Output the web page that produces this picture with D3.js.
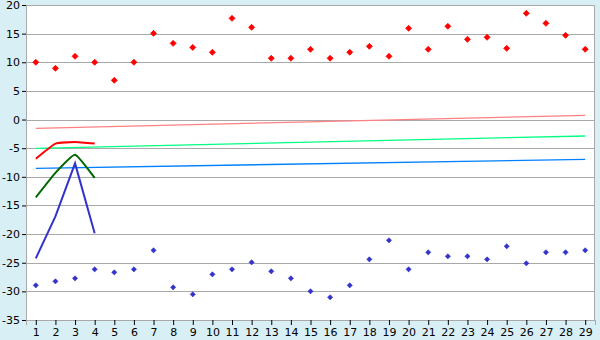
<!DOCTYPE html>
<html>
<head>
<meta charset="utf-8">
<script src="https://cdn.jsdelivr.net/npm/d3@7"></script>
<style>
  body { margin: 0; background: #d9eff6; }
  svg text { font-family: "DejaVu Sans", Verdana, sans-serif; font-size: 11px; fill: #000; }
</style>
</head>
<body>
<div id="chart"></div>
<script>
// categories along the x axis
let categories = d3.range(1, 30);

// scatter series (markers only)
let redPoints = [10, 8.95, 11.04, 10, 6.85, 10, 15.05, 13.3, 12.6, 11.74, 17.67, 16.1, 10.7, 10.7,
    12.26, 10.7, 11.74, 12.78, 11.04, 15.93, 12.26, 16.28, 14.0, 14.36, 12.43, 18.55, 16.8, 14.7, 12.26];
let bluePoints = [-28.95, -28.25, -27.73, -26.15, -26.68, -26.15, -22.83, -29.3, -30.52, -27.03, -26.15,
    -24.93, -26.5, -27.73, -29.99, -31.04, -28.95, -24.41, -21.09, -26.15, -23.18, -23.88, -23.88,
    -24.41, -22.13, -25.1, -23.18, -23.18, -22.83];

// short lines over categories 1..4
let redLine = [-6.84, -4.2, -3.92, -4.2];
let greenLine = [-13.58, -9.3, -6.15, -10.2];
let blueLine = [-24.24, -16.9, -7.65, -19.87];

// straight lines from first to last category
let pinkTrend = [-1.54, 0.73];
let springTrend = [-5.03, -2.87];
let azureTrend = [-8.52, -6.95];

let yTicks = [20, 15, 10, 5, 0, -5, -10, -15, -20, -25, -30, -35];

let svgWidth = 600, svgHeight = 340;
let margin = { top: 5, right: 5, bottom: 20, left: 26 };
let width = svgWidth - margin.left - margin.right;
let height = svgHeight - margin.top - margin.bottom;

let svg = d3.select("#chart").append("svg")
    .attr("width", svgWidth)
    .attr("height", svgHeight);

let chartGroup = svg.append("g")
    .attr("transform", `translate(${margin.left}, ${margin.top})`);

let xScale = d3.scalePoint()
    .domain(categories)
    .range([0, width])
    .padding(0.5);

let yScale = d3.scaleLinear()
    .domain([-35, 20])
    .range([height, 0]);

// plot background
chartGroup.append("rect")
    .attr("width", width)
    .attr("height", height)
    .attr("fill", "#fff");

// gridlines
chartGroup.append("g")
    .selectAll("line")
    .data(yTicks)
    .enter()
    .append("line")
    .attr("x1", 0)
    .attr("x2", width)
    .attr("y1", d => Math.round(yScale(d)) + 0.5)
    .attr("y2", d => Math.round(yScale(d)) + 0.5)
    .attr("stroke", "#a9a9a9")
    .attr("stroke-width", 1);

// right border
chartGroup.append("line")
    .attr("x1", width - 0.5).attr("x2", width - 0.5)
    .attr("y1", 0).attr("y2", height)
    .attr("stroke", "#a9a9a9");

// axes
let leftAxis = d3.axisLeft(yScale).tickValues(yTicks).tickSize(4).tickPadding(2);
let bottomAxis = d3.axisBottom(xScale).tickSize(5).tickPadding(3);

let yAxis = chartGroup.append("g").call(leftAxis);
yAxis.select(".domain").attr("stroke", "#a9a9a9");
yAxis.selectAll(".tick line").attr("stroke", "#000");
yAxis.selectAll("text").attr("font-size", 11).attr("font-family", null).text(d => d);

let xAxis = chartGroup.append("g")
    .attr("transform", `translate(0, ${height})`)
    .call(bottomAxis);
xAxis.select(".domain").attr("stroke", "#a9a9a9");
xAxis.selectAll(".tick line").attr("stroke", "#000");
xAxis.selectAll("text").attr("font-size", 11).attr("font-family", null);

// trend lines
let straight = d3.line()
    .x((d, i) => xScale(i === 0 ? categories[0] : categories[categories.length - 1]))
    .y(d => yScale(d));

[[pinkTrend, "#ff8080"], [springTrend, "#00ff80"], [azureTrend, "#0080ff"]].forEach(([vals, color]) => {
    chartGroup.append("path")
        .datum(vals)
        .attr("d", straight)
        .attr("fill", "none")
        .attr("stroke", color)
        .attr("stroke-width", 1.3);
});

// short lines, lightly smoothed
let smooth = d3.line()
    .x((d, i) => xScale(categories[i]))
    .y(d => yScale(d))
    .curve(d3.curveCardinal.tension(0.6));

let plain = d3.line()
    .x((d, i) => xScale(categories[i]))
    .y(d => yScale(d));

[[redLine, "#ff0000", smooth], [greenLine, "#006600", smooth], [blueLine, "#3333cc", plain]].forEach(([vals, color, gen]) => {
    chartGroup.append("path")
        .datum(vals)
        .attr("d", gen)
        .attr("fill", "none")
        .attr("stroke", color)
        .attr("stroke-width", 2);
});

// markers
chartGroup.append("g")
    .selectAll("path")
    .data(redPoints)
    .enter()
    .append("path")
    .attr("d", "M0,-3L3,0L0,3L-3,0Z")
    .attr("transform", (d, i) => `translate(${xScale(categories[i])}, ${yScale(d)})`)
    .attr("fill", "#ff0000")
    .attr("stroke", "#ff0000")
    .attr("stroke-width", 0.8);

chartGroup.append("g")
    .selectAll("path")
    .data(bluePoints)
    .enter()
    .append("path")
    .attr("d", "M0,-2.6L2.6,0L0,2.6L-2.6,0Z")
    .attr("transform", (d, i) => `translate(${xScale(categories[i])}, ${yScale(d)})`)
    .attr("fill", "#3333cc")
    .attr("stroke", "#3333cc")
    .attr("stroke-width", 0.6);
</script>
</body>
</html>
